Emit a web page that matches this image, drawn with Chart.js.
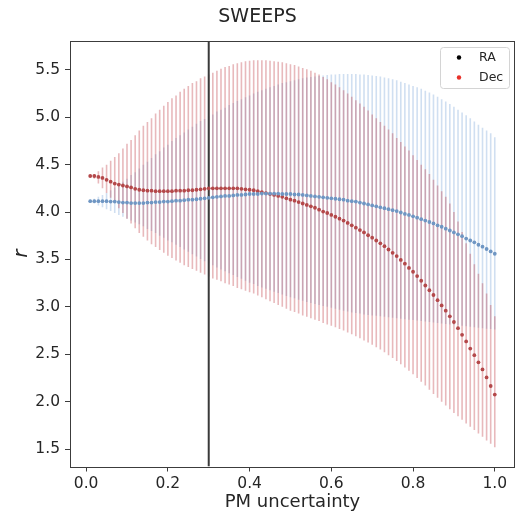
<!DOCTYPE html>
<html>
<head>
<meta charset="utf-8">
<title>SWEEPS</title>
<script src="https://cdn.jsdelivr.net/npm/chart.js@4.4.1/dist/chart.umd.min.js"></script>
<style>
    html, body { margin: 0; padding: 0; background: #ffffff; }
    canvas { display: block; }
</style>
</head>
<body>
<canvas id="sweepsChart" width="523" height="517"></canvas>
<script>
// PM uncertainty values (x)
const pmUncertainty = [
    0.01, 0.02, 0.03, 0.04, 0.05, 0.06, 0.07, 0.08, 0.09, 0.10,
    0.11, 0.12, 0.13, 0.14, 0.15, 0.16, 0.17, 0.18, 0.19, 0.20,
    0.21, 0.22, 0.23, 0.24, 0.25, 0.26, 0.27, 0.28, 0.29, 0.30,
    0.31, 0.32, 0.33, 0.34, 0.35, 0.36, 0.37, 0.38, 0.39, 0.40,
    0.41, 0.42, 0.43, 0.44, 0.45, 0.46, 0.47, 0.48, 0.49, 0.50,
    0.51, 0.52, 0.53, 0.54, 0.55, 0.56, 0.57, 0.58, 0.59, 0.60,
    0.61, 0.62, 0.63, 0.64, 0.65, 0.66, 0.67, 0.68, 0.69, 0.70,
    0.71, 0.72, 0.73, 0.74, 0.75, 0.76, 0.77, 0.78, 0.79, 0.80,
    0.81, 0.82, 0.83, 0.84, 0.85, 0.86, 0.87, 0.88, 0.89, 0.90,
    0.91, 0.92, 0.93, 0.94, 0.95, 0.96, 0.97, 0.98, 0.99, 1.00
];

// RA: r value and error bar ends
const raMid = [
    4.115, 4.115, 4.115, 4.115, 4.115, 4.11, 4.11, 4.105, 4.10, 4.10,
    4.095, 4.095, 4.095, 4.095, 4.10, 4.10, 4.105, 4.105, 4.11, 4.11,
    4.115, 4.12, 4.12, 4.125, 4.13, 4.13, 4.135, 4.14, 4.145, 4.15,
    4.155, 4.16, 4.165, 4.17, 4.17, 4.175, 4.18, 4.18, 4.185, 4.19,
    4.19, 4.19, 4.195, 4.195, 4.195, 4.195, 4.195, 4.19, 4.19, 4.19,
    4.185, 4.185, 4.18, 4.175, 4.17, 4.165, 4.16, 4.155, 4.15, 4.145,
    4.14, 4.135, 4.13, 4.12, 4.115, 4.11, 4.10, 4.09, 4.08, 4.07,
    4.06, 4.05, 4.04, 4.03, 4.02, 4.01, 3.995, 3.98, 3.97, 3.955,
    3.94, 3.925, 3.91, 3.895, 3.88, 3.86, 3.845, 3.825, 3.805, 3.785,
    3.765, 3.745, 3.72, 3.70, 3.68, 3.655, 3.635, 3.61, 3.585, 3.56
];
const raHigh = [
    4.13, 4.14, 4.16, 4.18, 4.20, 4.23, 4.26, 4.29, 4.32, 4.35,
    4.39, 4.42, 4.46, 4.50, 4.53, 4.57, 4.61, 4.64, 4.68, 4.71,
    4.75, 4.78, 4.81, 4.84, 4.87, 4.90, 4.93, 4.96, 4.98, 5.01,
    5.03, 5.06, 5.08, 5.10, 5.13, 5.15, 5.17, 5.19, 5.21, 5.23,
    5.25, 5.27, 5.285, 5.30, 5.315, 5.33, 5.345, 5.36, 5.37, 5.38,
    5.39, 5.40, 5.41, 5.42, 5.425, 5.43, 5.435, 5.44, 5.445, 5.45,
    5.45, 5.455, 5.455, 5.455, 5.455, 5.455, 5.45, 5.45, 5.445, 5.44,
    5.435, 5.43, 5.42, 5.41, 5.40, 5.39, 5.375, 5.36, 5.345, 5.33,
    5.315, 5.30, 5.28, 5.26, 5.24, 5.215, 5.19, 5.165, 5.14, 5.11,
    5.08, 5.05, 5.02, 4.99, 4.955, 4.92, 4.89, 4.86, 4.83, 4.79
];
const raLow = [
    4.10, 4.09, 4.07, 4.05, 4.03, 4.01, 3.99, 3.97, 3.95, 3.93,
    3.91, 3.89, 3.87, 3.85, 3.82, 3.80, 3.78, 3.75, 3.73, 3.70,
    3.68, 3.655, 3.63, 3.605, 3.58, 3.555, 3.53, 3.505, 3.48, 3.46,
    3.44, 3.415, 3.395, 3.375, 3.355, 3.335, 3.315, 3.295, 3.275, 3.255,
    3.24, 3.22, 3.205, 3.19, 3.175, 3.16, 3.145, 3.13, 3.115, 3.10,
    3.09, 3.075, 3.065, 3.05, 3.04, 3.03, 3.02, 3.01, 3.00, 2.99,
    2.98, 2.97, 2.96, 2.95, 2.94, 2.935, 2.93, 2.92, 2.915, 2.91,
    2.905, 2.90, 2.895, 2.89, 2.885, 2.88, 2.875, 2.87, 2.865, 2.86,
    2.855, 2.85, 2.845, 2.84, 2.835, 2.83, 2.825, 2.82, 2.815, 2.81,
    2.805, 2.80, 2.795, 2.79, 2.785, 2.78, 2.775, 2.77, 2.765, 2.76
];

// Dec: r value and error bar ends
const decMid = [
    4.38, 4.38, 4.37, 4.36, 4.34, 4.32, 4.30, 4.29, 4.28, 4.27,
    4.26, 4.245, 4.235, 4.23, 4.225, 4.225, 4.22, 4.22, 4.22, 4.22,
    4.22, 4.225, 4.225, 4.225, 4.23, 4.23, 4.235, 4.24, 4.245, 4.25,
    4.25, 4.25, 4.25, 4.25, 4.25, 4.25, 4.25, 4.245, 4.24, 4.235,
    4.23, 4.22, 4.21, 4.20, 4.19, 4.18, 4.17, 4.16, 4.145, 4.13,
    4.12, 4.105, 4.09, 4.075, 4.06, 4.045, 4.025, 4.005, 3.99, 3.97,
    3.95, 3.93, 3.91, 3.885, 3.86, 3.835, 3.81, 3.785, 3.755, 3.73,
    3.70, 3.67, 3.64, 3.605, 3.57, 3.535, 3.495, 3.455, 3.41, 3.37,
    3.325, 3.275, 3.225, 3.175, 3.125, 3.07, 3.015, 2.96, 2.90, 2.84,
    2.775, 2.705, 2.635, 2.56, 2.49, 2.415, 2.34, 2.255, 2.165, 2.075
];
const decHigh = [
    4.39, 4.40, 4.43, 4.47, 4.50, 4.54, 4.58, 4.62, 4.67, 4.72,
    4.76, 4.81, 4.86, 4.91, 4.95, 4.99, 5.04, 5.08, 5.12, 5.16,
    5.20, 5.23, 5.27, 5.30, 5.33, 5.36, 5.38, 5.41, 5.43, 5.45,
    5.47, 5.49, 5.51, 5.53, 5.54, 5.56, 5.57, 5.58, 5.59, 5.595,
    5.60, 5.60, 5.60, 5.60, 5.595, 5.59, 5.585, 5.58, 5.57, 5.56,
    5.55, 5.535, 5.52, 5.505, 5.49, 5.47, 5.45, 5.425, 5.40, 5.37,
    5.345, 5.315, 5.285, 5.25, 5.215, 5.18, 5.145, 5.11, 5.07, 5.03,
    4.99, 4.95, 4.91, 4.87, 4.83, 4.78, 4.74, 4.69, 4.65, 4.60,
    4.55, 4.50, 4.45, 4.40, 4.34, 4.28, 4.22, 4.16, 4.09, 4.00,
    3.90, 3.79, 3.67, 3.56, 3.45, 3.35, 3.25, 3.14, 3.02, 2.90
];
const decLow = [
    4.37, 4.35, 4.30, 4.25, 4.20, 4.15, 4.10, 4.04, 3.99, 3.93,
    3.88, 3.83, 3.78, 3.74, 3.70, 3.66, 3.63, 3.60, 3.57, 3.54,
    3.515, 3.49, 3.465, 3.44, 3.42, 3.40, 3.38, 3.36, 3.34, 3.32,
    3.30, 3.285, 3.27, 3.25, 3.235, 3.22, 3.20, 3.185, 3.17, 3.155,
    3.14, 3.12, 3.10, 3.08, 3.06, 3.04, 3.02, 3.00, 2.98, 2.96,
    2.945, 2.93, 2.91, 2.895, 2.88, 2.865, 2.85, 2.83, 2.815, 2.80,
    2.785, 2.765, 2.75, 2.73, 2.71, 2.69, 2.67, 2.645, 2.625, 2.60,
    2.575, 2.55, 2.52, 2.49, 2.46, 2.43, 2.395, 2.36, 2.325, 2.29,
    2.25, 2.21, 2.17, 2.125, 2.08, 2.04, 2.00, 1.96, 1.92, 1.88,
    1.845, 1.81, 1.77, 1.735, 1.70, 1.665, 1.63, 1.59, 1.555, 1.52
];

// Cut line and axes
const cutX = 0.3;
const xLimits = [-0.0395, 1.0495];
const yLimits = [1.316, 5.804];
const xTicks = [0.0, 0.2, 0.4, 0.6, 0.8, 1.0];
const yTicks = [1.5, 2.0, 2.5, 3.0, 3.5, 4.0, 4.5, 5.0, 5.5];
const legendLabels = ['RA', 'Dec'];
const legendColors = ['#000000', '#e8312a'];

document.addEventListener('DOMContentLoaded', function() {
    const textColor = '#262626';
    const axisColor = '#3c3c3c';

    // Frame around the plot area (matplotlib style box)
    const framePlugin = {
        id: 'frame',
        afterDatasetsDraw(chart) {
            const a = chart.chartArea;
            const ctx = chart.ctx;
            ctx.save();
            ctx.strokeStyle = axisColor;
            ctx.lineWidth = 1;
            ctx.strokeRect(Math.round(a.left) + 0.5, Math.round(a.top) + 0.5,
                Math.round(a.right - a.left) - 1, Math.round(a.bottom - a.top));
            ctx.restore();
        }
    };

    // Legend box in the upper right corner of the plot
    const cornerLegend = {
        id: 'cornerLegend',
        afterDraw(chart) {
            const a = chart.chartArea;
            const ctx = chart.ctx;
            const w = 69, h = 41;
            const x = a.right - 6 - w;
            const y = a.top + 6;
            ctx.save();
            ctx.fillStyle = 'rgba(255,255,255,0.85)';
            ctx.strokeStyle = '#d4d4d4';
            ctx.lineWidth = 1;
            ctx.beginPath();
            ctx.roundRect(x + 0.5, y + 0.5, w, h, 3);
            ctx.fill();
            ctx.stroke();
            ctx.font = '12.5px "DejaVu Sans"';
            ctx.textBaseline = 'middle';
            ctx.textAlign = 'left';
            legendLabels.forEach(function(label, i) {
                const cy = y + 10.5 + i * 20;
                ctx.fillStyle = legendColors[i];
                ctx.beginPath();
                ctx.arc(x + 19, cy, 2.2, 0, Math.PI * 2);
                ctx.fill();
                ctx.fillStyle = textColor;
                ctx.fillText(label, x + 39, cy + 0.5);
            });
            ctx.restore();
        }
    };

    const raBars = pmUncertainty.map((x, i) => ({ x: x, y: [raLow[i], raHigh[i]] }));
    const decBars = pmUncertainty.map((x, i) => ({ x: x, y: [decLow[i], decHigh[i]] }));
    const raPoints = pmUncertainty.map((x, i) => ({ x: x, y: raMid[i] }));
    const decPoints = pmUncertainty.map((x, i) => ({ x: x, y: decMid[i] }));

    const ctx = document.getElementById('sweepsChart');
    new Chart(ctx, {
        type: 'scatter',
        data: {
            datasets: [
                {
                    type: 'bar',
                    label: 'RA err',
                    data: raBars,
                    backgroundColor: 'rgba(100, 150, 210, 0.3)',
                    borderWidth: 0,
                    barThickness: 1.6,
                    inflateAmount: 0,
                    grouped: false,
                    order: 5
                },
                {
                    type: 'bar',
                    label: 'Dec err',
                    data: decBars,
                    backgroundColor: 'rgba(190, 60, 70, 0.36)',
                    borderWidth: 0,
                    barThickness: 1.6,
                    inflateAmount: 0,
                    grouped: false,
                    order: 4
                },
                {
                    type: 'line',
                    label: 'cut',
                    data: [{ x: cutX, y: yLimits[0] }, { x: cutX, y: yLimits[1] }],
                    borderColor: '#3a3a3a',
                    borderWidth: 2,
                    pointRadius: 0,
                    order: 3
                },
                {
                    label: 'Dec',
                    data: decPoints,
                    backgroundColor: '#b4484a',
                    pointRadius: 1.9,
                    pointBorderWidth: 0,
                    order: 2
                },
                {
                    label: 'RA',
                    data: raPoints,
                    backgroundColor: '#6f96c3',
                    pointRadius: 1.9,
                    pointBorderWidth: 0,
                    order: 1
                }
            ]
        },
        options: {
            responsive: false,
            animation: false,
            devicePixelRatio: 1,
            events: [],
            layout: { padding: { left: 0, right: 8, top: 0, bottom: 0 } },
            plugins: {
                legend: { display: false },
                tooltip: { enabled: false },
                title: {
                    display: true,
                    text: 'SWEEPS',
                    color: textColor,
                    font: { family: 'DejaVu Sans', size: 19, weight: 'normal' },
                    padding: { top: 6, bottom: 12.2 }
                }
            },
            scales: {
                x: {
                    type: 'linear',
                    offset: false,
                    min: xLimits[0],
                    max: xLimits[1],
                    afterBuildTicks: function(scale) {
                        scale.ticks = xTicks.map(v => ({ value: v }));
                    },
                    afterFit: function(scale) {
                        scale.height = 50.5;
                    },
                    border: { display: false },
                    grid: {
                        offset: false,
                        drawOnChartArea: false,
                        drawTicks: true,
                        tickLength: 5,
                        tickColor: axisColor,
                        tickWidth: 1
                    },
                    ticks: {
                        color: textColor,
                        padding: 3,
                        maxRotation: 0,
                        font: { family: 'DejaVu Sans', size: 15.5 },
                        callback: function(value) {
                            return value.toFixed(1);
                        }
                    },
                    title: {
                        display: true,
                        text: 'PM uncertainty',
                        color: textColor,
                        font: { family: 'DejaVu Sans', size: 18 },
                        padding: { top: 0, bottom: 4 }
                    }
                },
                y: {
                    type: 'linear',
                    min: yLimits[0],
                    max: yLimits[1],
                    afterBuildTicks: function(scale) {
                        scale.ticks = yTicks.map(v => ({ value: v }));
                    },
                    afterFit: function(scale) {
                        scale.width = 70;
                    },
                    border: { display: false },
                    grid: {
                        offset: false,
                        drawOnChartArea: false,
                        drawTicks: true,
                        tickLength: 5,
                        tickColor: axisColor,
                        tickWidth: 1
                    },
                    ticks: {
                        color: textColor,
                        padding: 5,
                        font: { family: 'DejaVu Sans', size: 15.5 },
                        callback: function(value) {
                            return value.toFixed(1);
                        }
                    },
                    title: {
                        display: true,
                        text: 'r',
                        color: textColor,
                        font: { family: 'DejaVu Sans', size: 20, style: 'italic' },
                        padding: { top: 10, bottom: 0 }
                    }
                }
            }
        },
        plugins: [framePlugin, cornerLegend]
    });
});
</script>
</body>
</html>
